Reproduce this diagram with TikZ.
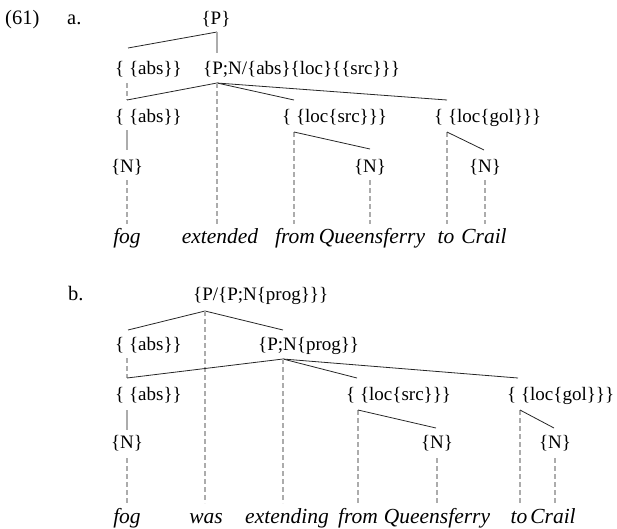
\documentclass[tikz,border=0pt]{standalone}
\usepackage{fontspec}
\setmainfont{Liberation Serif}
\begin{document}
\begin{tikzpicture}[x=1pt,y=-1pt,
  lbl/.style={inner sep=0pt, font=\fontsize{19}{23}\selectfont},
  exlabel/.style={inner sep=0pt, font=\fontsize{20.5}{24}\selectfont},
  wrd/.style={inner sep=0pt, anchor=base, font=\fontsize{21.5}{24}\selectfont\itshape},
  branch/.style={line width=0.8pt, black!85},
  solidstem/.style={line width=1.3pt, gray!65},
  dashstem/.style={line width=1.3pt, gray!65, dash pattern=on 5pt off 3pt},
]
\useasboundingbox (0,0) rectangle (617,528);

% ---------- (61a) ----------
\node[exlabel, anchor=base west] (exnum) at (5,24) {(61)};
\node[exlabel, anchor=base west] (alab) at (67,24) {a.};
\node[lbl, anchor=base] (aP) at (216,24) {\{P\}};
\node[lbl, anchor=base west] (aAbsA) at (115,74) {\{ \{abs\}\}};
\node[lbl, anchor=base west] (aPN) at (203,74) {\{P;N/\{abs\}\{loc\}\{\{src\}\}\}};
\node[lbl, anchor=base west] (aAbsB) at (115,122) {\{ \{abs\}\}};
\node[lbl, anchor=base west] (aSrc) at (282,122) {\{ \{loc\{src\}\}\}};
\node[lbl, anchor=base west] (aGol) at (434,122) {\{ \{loc\{gol\}\}\}};
\node[lbl, anchor=base] (aN1) at (127,172) {\{N\}};
\node[lbl, anchor=base] (aN2) at (370,172) {\{N\}};
\node[lbl, anchor=base] (aN3) at (485,172) {\{N\}};
\node[wrd] (aw1) at (127,243) {fog};
\node[wrd] (aw2) at (220,243) {extended};
\node[wrd] (aw3) at (295,243) {from};
\node[wrd] (aw4) at (372,243) {Queensferry};
\node[wrd] (aw5) at (446,243) {to};
\node[wrd] (aw6) at (484,243) {Crail};

% attachment points
\coordinate (aPfoot) at (217,32);
\coordinate (aAbsAtop) at (128,48);
\coordinate (aPNtop) at (217,53);
\coordinate (aAbsAfoot) at (127,83);
\coordinate (aPNfoot) at (217,83);
\coordinate (aAbsBtop) at (127,100);
\coordinate (aSrctop) at (294,100);
\coordinate (aGoltop) at (447,100);
\coordinate (aAbsBfoot) at (127,130);
\coordinate (aSrcfoot) at (294,132);
\coordinate (aGolfoot) at (447,132);
\coordinate (aN1top) at (127,150);
\coordinate (aN2top) at (370,149);
\coordinate (aN3top) at (484,150);
\coordinate (aN1foot) at (127,180);
\coordinate (aN2foot) at (370,180);
\coordinate (aN3foot) at (485,180);
\coordinate (aw1top) at (127,224);
\coordinate (aw2top) at (217,224);
\coordinate (aw3top) at (294,224);
\coordinate (aw4top) at (370,224);
\coordinate (aw5top) at (447,224);
\coordinate (aw6top) at (485,224);

\draw[branch] (aPfoot) -- (aAbsAtop);
\draw[solidstem] (aPfoot) -- (aPNtop);
\draw[dashstem] (aAbsAfoot) -- (aAbsBtop);
\draw[branch] (aPNfoot) -- (aAbsBtop);
\draw[branch] (aPNfoot) -- (aSrctop);
\draw[branch] (aPNfoot) -- (aGoltop);
\draw[dashstem] (aPNfoot) -- (aw2top);
\draw[solidstem] (aAbsBfoot) -- (aN1top);
\draw[dashstem] (aSrcfoot) -- (aw3top);
\draw[branch] (aSrcfoot) -- (aN2top);
\draw[dashstem] (aGolfoot) -- (aw5top);
\draw[branch] (aGolfoot) -- (aN3top);
\draw[dashstem] (aN1foot) -- (aw1top);
\draw[dashstem] (aN2foot) -- (aw4top);
\draw[dashstem] (aN3foot) -- (aw6top);

% ---------- (61b) ----------
\node[exlabel, anchor=base west] (blab) at (68,300) {b.};
\node[lbl, anchor=base west] (bP) at (193,300) {\{P/\{P;N\{prog\}\}\}};
\node[lbl, anchor=base west] (bAbsA) at (115,350) {\{ \{abs\}\}};
\node[lbl, anchor=base west] (bPN) at (258,350) {\{P;N\{prog\}\}};
\node[lbl, anchor=base west] (bAbsB) at (115,400) {\{ \{abs\}\}};
\node[lbl, anchor=base west] (bSrc) at (346,400) {\{ \{loc\{src\}\}\}};
\node[lbl, anchor=base west] (bGol) at (507,400) {\{ \{loc\{gol\}\}\}};
\node[lbl, anchor=base] (bN1) at (127,448) {\{N\}};
\node[lbl, anchor=base] (bN2) at (437,448) {\{N\}};
\node[lbl, anchor=base] (bN3) at (555,448) {\{N\}};
\node[wrd] (bw1) at (127,523) {fog};
\node[wrd] (bw2) at (206,523) {was};
\node[wrd] (bw3) at (287,523) {extending};
\node[wrd] (bw4) at (358,523) {from};
\node[wrd] (bw5) at (437,523) {Queensferry};
\node[wrd] (bw6) at (519,523) {to};
\node[wrd] (bw7) at (553,523) {Crail};

\coordinate (bPfoot) at (205,311);
\coordinate (bAbsAtop) at (128,330);
\coordinate (bPNtop) at (283,330);
\coordinate (bAbsAfoot) at (127,358);
\coordinate (bPNfoot) at (283,359);
\coordinate (bAbsBtop) at (127,378);
\coordinate (bSrctop) at (357,378);
\coordinate (bGoltop) at (518,378);
\coordinate (bAbsBfoot) at (127,410);
\coordinate (bSrcfoot) at (358,410);
\coordinate (bGolfoot) at (520,410);
\coordinate (bN1top) at (127,430);
\coordinate (bN2top) at (436,428);
\coordinate (bN3top) at (554,428);
\coordinate (bN1foot) at (127,458);
\coordinate (bN2foot) at (437,458);
\coordinate (bN3foot) at (555,458);
\coordinate (bw1top) at (127,503);
\coordinate (bw2top) at (205,503);
\coordinate (bw3top) at (283,503);
\coordinate (bw4top) at (358,503);
\coordinate (bw5top) at (437,503);
\coordinate (bw6top) at (520,503);
\coordinate (bw7top) at (555,503);

\draw[branch] (bPfoot) -- (bAbsAtop);
\draw[branch] (bPfoot) -- (bPNtop);
\draw[dashstem] (bPfoot) -- (bw2top);
\draw[dashstem] (bAbsAfoot) -- (bAbsBtop);
\draw[branch] (bPNfoot) -- (bAbsBtop);
\draw[branch] (bPNfoot) -- (bSrctop);
\draw[branch] (bPNfoot) -- (bGoltop);
\draw[dashstem] (bPNfoot) -- (bw3top);
\draw[solidstem] (bAbsBfoot) -- (bN1top);
\draw[dashstem] (bSrcfoot) -- (bw4top);
\draw[branch] (bSrcfoot) -- (bN2top);
\draw[dashstem] (bGolfoot) -- (bw6top);
\draw[branch] (bGolfoot) -- (bN3top);
\draw[dashstem] (bN1foot) -- (bw1top);
\draw[dashstem] (bN2foot) -- (bw5top);
\draw[dashstem] (bN3foot) -- (bw7top);
\end{tikzpicture}
\end{document}
